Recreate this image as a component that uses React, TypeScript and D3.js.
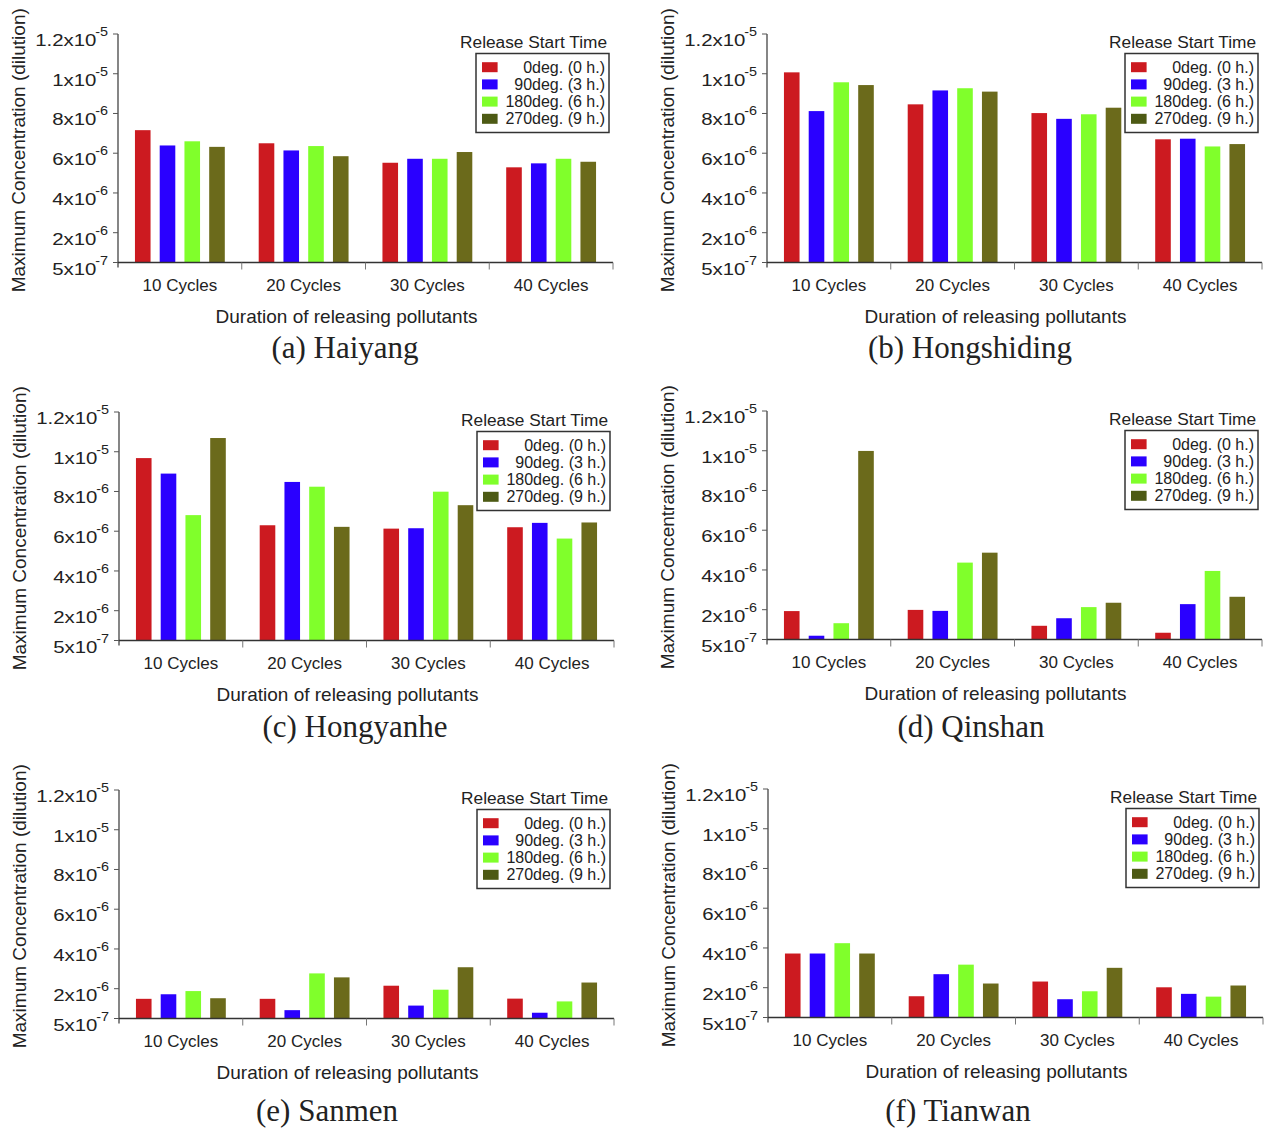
import React from 'react';
import * as d3 from 'd3';

// categories, series and tick values
const categories = ['10 Cycles', '20 Cycles', '30 Cycles', '40 Cycles'];
const seriesNames = ['0deg. (0 h.)', '90deg. (3 h.)', '180deg. (6 h.)', '270deg. (9 h.)'];
const yTicks = [5e-7, 2e-6, 4e-6, 6e-6, 8e-6, 1e-5, 1.2e-5];
const captions = ['(a) Haiyang', '(b) Hongshiding', '(c) Hongyanhe', '(d) Qinshan', '(e) Sanmen', '(f) Tianwan'];

// values per site: one row per series, one column per category
const haiyang = [
  [7.16e-6, 6.5e-6, 5.52e-6, 5.29e-6],
  [6.39e-6, 6.14e-6, 5.72e-6, 5.49e-6],
  [6.6e-6, 6.36e-6, 5.72e-6, 5.72e-6],
  [6.32e-6, 5.85e-6, 6.06e-6, 5.57e-6],
];
const hongshiding = [
  [10.07e-6, 8.46e-6, 8.02e-6, 6.7e-6],
  [8.12e-6, 9.16e-6, 7.73e-6, 6.73e-6],
  [9.57e-6, 9.27e-6, 7.96e-6, 6.34e-6],
  [9.43e-6, 9.1e-6, 8.29e-6, 6.46e-6],
];
const hongyanhe = [
  [9.68e-6, 6.3e-6, 6.13e-6, 6.2e-6],
  [8.9e-6, 8.48e-6, 6.15e-6, 6.42e-6],
  [6.81e-6, 8.24e-6, 7.99e-6, 5.63e-6],
  [10.69e-6, 6.22e-6, 7.31e-6, 6.44e-6],
];
const qinshan = [
  [1.93e-6, 1.99e-6, 1.19e-6, 0.84e-6],
  [0.69e-6, 1.94e-6, 1.57e-6, 2.28e-6],
  [1.32e-6, 4.37e-6, 2.13e-6, 3.95e-6],
  [9.99e-6, 4.87e-6, 2.35e-6, 2.65e-6],
];
const sanmen = [
  [1.49e-6, 1.49e-6, 2.15e-6, 1.5e-6],
  [1.72e-6, 0.92e-6, 1.15e-6, 0.79e-6],
  [1.88e-6, 2.77e-6, 1.95e-6, 1.36e-6],
  [1.52e-6, 2.57e-6, 3.08e-6, 2.31e-6],
];
const tianwan = [
  [3.72e-6, 1.57e-6, 2.31e-6, 2.02e-6],
  [3.72e-6, 2.68e-6, 1.42e-6, 1.69e-6],
  [4.24e-6, 3.16e-6, 1.82e-6, 1.55e-6],
  [3.72e-6, 2.21e-6, 3.0e-6, 2.11e-6],
];

const barColors = ['#cc1a20', '#2a00ff', '#80ff2b', '#6b6a1b'];
const legendColors = ['#cc1a20', '#2a00ff', '#80ff2b', '#4d5a14'];

// panel placement: axis origin x, axis top y, caption centre x / shift
const panels = [
  { data: haiyang, x: 118, top: 34, capX: 345, capDy: 0 },
  { data: hongshiding, x: 767, top: 34, capX: 970, capDy: 0 },
  { data: hongyanhe, x: 119, top: 412, capX: 355, capDy: 1 },
  { data: qinshan, x: 767, top: 411, capX: 971, capDy: 2 },
  { data: sanmen, x: 119, top: 790, capX: 327, capDy: 7 },
  { data: tianwan, x: 768, top: 789, capX: 958, capDy: 8 },
];

const plotW = 495;
const plotH = 228.5;
const sans = 'Liberation Sans, Arial, sans-serif';
const ink = '#222';

function tickParts(v: number) {
  const e = Math.floor(Math.log10(v) + 1e-9);
  const m = +(v / Math.pow(10, e)).toFixed(2);
  return { m: String(m), e: String(e) };
}

function Panel({ p, caption }: { p: any; caption: string }) {
  const bottom = p.top + plotH;
  const right = p.x + plotW;
  const x0 = d3.scaleBand().domain(categories).range([p.x, right]).padding(0);
  const x1 = d3
    .scaleBand()
    .domain(seriesNames)
    .range([0, x0.bandwidth()])
    .paddingInner(0.37)
    .paddingOuter(0.685);
  const y = d3.scaleLinear().domain([5e-7, 1.2e-5]).range([bottom, p.top]);

  const legRight = right - 4;
  const legLeft = legRight - 133;
  const legTop = p.top + 19.5;

  return (
    <g>
      {/* bars */}
      {seriesNames.map((s, si) =>
        categories.map((c, ci) => (
          <rect
            key={s + c}
            x={(x0(c) as number) + (x1(s) as number)}
            y={y(p.data[si][ci])}
            width={x1.bandwidth()}
            height={bottom - y(p.data[si][ci])}
            fill={barColors[si]}
          />
        ))
      )}

      {/* y axis */}
      <line x1={p.x} x2={p.x} y1={p.top} y2={bottom + 5} stroke="#444" strokeWidth={1.3} />
      {yTicks.map((t) => {
        const tp = tickParts(t);
        return (
          <g key={t}>
            <line x1={p.x - 5} x2={p.x} y1={y(t)} y2={y(t)} stroke="#555" strokeWidth={1} />
            <g transform={`translate(${p.x - 10},${y(t) + 12}) scale(1.2,1)`}>
              <text x={0} y={0} textAnchor="end" fontFamily={sans} fontSize={17} fill={ink}>
                {tp.m}x10
                <tspan dx={-1} dy={-10} fontSize={12}>
                  {tp.e}
                </tspan>
              </text>
            </g>
          </g>
        );
      })}
      <text
        transform={`translate(${p.x - 93},${(p.top + bottom) / 2 + 2}) rotate(-90)`}
        textAnchor="middle"
        fontFamily={sans}
        fontSize={19}
        fill={ink}
      >
        Maximum Concentration (dilution)
      </text>

      {/* x axis */}
      <line x1={p.x} x2={right} y1={bottom} y2={bottom} stroke="#333" strokeWidth={1.6} />
      {categories.map((c) => (
        <g key={c}>
          <line
            x1={(x0(c) as number) + x0.bandwidth()}
            x2={(x0(c) as number) + x0.bandwidth()}
            y1={bottom}
            y2={bottom + 7}
            stroke="#777"
            strokeWidth={1}
          />
          <text
            x={(x0(c) as number) + x0.bandwidth() / 2}
            y={bottom + 28}
            textAnchor="middle"
            fontFamily={sans}
            fontSize={17}
            fill={ink}
          >
            {c}
          </text>
        </g>
      ))}
      <text
        x={(p.x + right) / 2 - 19}
        y={bottom + 60}
        textAnchor="middle"
        fontFamily={sans}
        fontSize={19}
        fill={ink}
      >
        Duration of releasing pollutants
      </text>

      {/* legend */}
      <text x={legRight - 2} y={p.top + 13.5} textAnchor="end" fontFamily={sans} fontSize={17.3} fill={ink}>
        Release Start Time
      </text>
      <rect x={legLeft} y={legTop} width={legRight - legLeft} height={79} fill="white" stroke="#333" strokeWidth={1.5} />
      {seriesNames.map((s, si) => {
        const cy = legTop + 13.7 + si * 17.2;
        return (
          <g key={s}>
            <rect x={legLeft + 6} y={cy - 5} width={15.6} height={10} fill={legendColors[si]} />
            <text x={legRight - 4} y={cy + 5.5} textAnchor="end" fontFamily={sans} fontSize={16} fill={ink}>
              {s}
            </text>
          </g>
        );
      })}

      {/* caption */}
      <text
        x={p.capX}
        y={bottom + 95 + p.capDy}
        textAnchor="middle"
        fontFamily="Liberation Serif, Times New Roman, serif"
        fontSize={31}
        fill={ink}
      >
        {caption}
      </text>
    </g>
  );
}

export default function App() {
  return (
    <svg
      width={1264}
      height={1129}
      style={{ position: 'absolute', left: 0, top: 0, background: 'white' }}
    >
      <rect width={1264} height={1129} fill="white" />
      {panels.map((p, i) => (
        <Panel key={i} p={p} caption={captions[i]} />
      ))}
    </svg>
  );
}
